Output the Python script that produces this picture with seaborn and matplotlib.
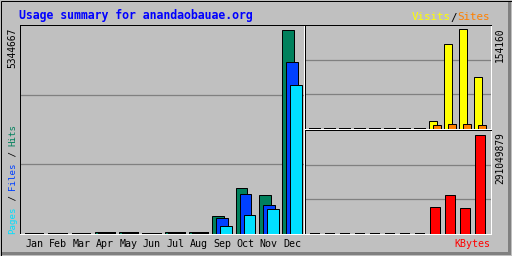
import matplotlib
matplotlib.use("Agg")
import matplotlib.pyplot as plt
from matplotlib.patches import Rectangle
from matplotlib.transforms import offset_copy
import seaborn as sns
import numpy as np

# ---------------- data ----------------
months = ["Jan", "Feb", "Mar", "Apr", "May", "Jun", "Jul", "Aug", "Sep", "Oct", "Nov", "Dec"]
hits = [0, 0, 0, 52000, 52000, 0, 52000, 52000, 464000, 1197000, 1014000, 5344667]
files = [0, 0, 0, 8000, 8000, 0, 8000, 8000, 411000, 1040000, 752000, 4488000]
pages = [0, 0, 0, 4000, 4000, 0, 4000, 4000, 202000, 490000, 647000, 3896000]
visits = [0, 0, 0, 0, 0, 0, 0, 0, 12400, 131400, 154160, 80400]
sites = [0, 0, 0, 0, 0, 0, 0, 0, 6200, 7700, 7700, 6200]
kbytes = [0, 0, 0, 0, 0, 0, 0, 0, 79600000, 114100000, 75800000, 291049879]
title = "Usage summary for anandaobauae.org"

C_HITS, C_FILES, C_PAGES = "#00805c", "#0040ff", "#00e0ff"
C_VISITS, C_SITES, C_KB = "#ffff00", "#ff8000", "#ff0000"
BG = "#c0c0c0"
MONO = "DejaVu Sans Mono"

sns.set_style("white")
plt.rcParams["font.family"] = [MONO, "DejaVu Sans"]

W, H = 512, 256
fig = plt.figure(figsize=(W / 100, H / 100), dpi=100, facecolor=BG)


def fx(px):
    return px / W


def fy(py):
    return 1 - py / H


# background frame
bg = fig.add_axes([0, 0, 1, 1], zorder=-10)
bg.set_xlim(0, W)
bg.set_ylim(H, 0)
bg.axis("off")
bg.add_patch(Rectangle((508, 1), 3, 254, facecolor="#808080", edgecolor="none"))
bg.add_patch(Rectangle((1, 252), 510, 3, facecolor="#808080", edgecolor="none"))
bg.add_patch(Rectangle((1, 1), 507, 1, facecolor="white", edgecolor="none"))
bg.add_patch(Rectangle((1, 1), 1, 251, facecolor="white", edgecolor="none"))
bg.add_patch(Rectangle((0.5, 0.5), 511, 255, fill=False, edgecolor="black", lw=0.72))


def panel(l, t, r, b):
    ax = fig.add_axes([l / W, 1 - b / H, (r - l) / W, (b - t) / H])
    ax.set_facecolor(BG)
    for s in ("top", "left"):
        ax.spines[s].set_color("black")
        ax.spines[s].set_linewidth(0.72)
    for s in ("bottom", "right"):
        ax.spines[s].set_color("white")
        ax.spines[s].set_linewidth(0.72)
    return ax


def bars(ax, pos, vals, color, width):
    sns.barplot(x=pos, y=vals, native_scale=True, width=width, color=color,
                saturation=1, edgecolor="black", linewidth=0.72,
                errorbar=None, ax=ax)


def finish(ax, xlim, ymax, min_px):
    ax.set_xlim(*xlim)
    ax.set_ylim(0, ymax)
    ax.set_yticks([ymax / 3, 2 * ymax / 3])
    ax.yaxis.grid(True, color="#808080", lw=0.9)
    ax.set_axisbelow(True)
    ax.tick_params(left=False, labelleft=False, bottom=False)
    ax.set_xlabel("")
    ax.set_ylabel("")
    for p in ax.patches:
        if p.get_height() < min_px:
            p.set_linewidth(1.44)


idx = np.arange(12)

# ---------------- main panel ----------------
ax = panel(20, 25, 304, 233.5)
sp = 23.4
w = 11.5 / sp
bars(ax, idx + w / 2, hits, C_HITS, w)
bars(ax, idx + 4 / sp + w / 2, files, C_FILES, w)
bars(ax, idx + 8 / sp + w / 2, pages, C_PAGES, w)
ymax_main = max(hits) * 208.5 / 204
finish(ax, ((20 - 25) / sp, (304 - 25) / sp), ymax_main, ymax_main * 1.5 / 208)
ax.set_xticks(idx + 4 / sp + w / 2)
ax.set_xticklabels(months, fontsize=7.2, family=MONO, color="black")
ax.tick_params(axis="x", length=0, pad=4)

# ---------------- visits / sites ----------------
ax2 = panel(305, 25, 491, 129)
sp2 = 15.0
w2 = 7.5 / sp2
bars(ax2, idx + w2 / 2, visits, C_VISITS, w2)
bars(ax2, idx + 4 / sp2 + w2 / 2, sites, C_SITES, w2)
ymax2 = max(visits) * 104 / 99.7
finish(ax2, ((305 - 309.3) / sp2, (491 - 309.3) / sp2), ymax2, ymax2 * 1.5 / 104)
ax2.set_xticks([])

# ---------------- kbytes ----------------
ax3 = panel(305, 130, 491, 233.5)
w3 = 10.0 / sp2
bars(ax3, idx + w3 / 2, kbytes, C_KB, w3)
ymax3 = max(kbytes) * 103.5 / 98.7
finish(ax3, ((305 - 310) / sp2, (491 - 310) / sp2), ymax3, ymax3 * 1.5 / 103.5)
ax3.set_xticks([])

# ---------------- texts ----------------
fig.text(fx(19), fy(18.5), title, color="#0000ff", fontsize=8.3,
         fontweight="bold", family=MONO, ha="left", va="baseline")


def seg_text(x_px, y_px, parts, fs, rot):
    adv = 0.602 * fs
    k = 0
    for s, c in parts:
        if rot:
            tr = offset_copy(fig.transFigure, fig=fig, x=0, y=k * adv, units="points")
            fig.text(fx(x_px), fy(y_px), s, color=c, fontsize=fs, family=MONO,
                     rotation=90, rotation_mode="anchor", ha="left", va="center",
                     transform=tr)
        else:
            tr = offset_copy(fig.transFigure, fig=fig, x=k * adv, y=0, units="points")
            fig.text(fx(x_px), fy(y_px), s, color=c, fontsize=fs, family=MONO,
                     ha="left", va="baseline", transform=tr)
        k += len(s)


fs_lbl = 6.6
seg_text(12.5, 234, [("Pages", C_PAGES), (" / ", "black"), ("Files", C_FILES),
                     (" / ", "black"), ("Hits", C_HITS)], fs_lbl, True)

fs_vs = 7.8
adv_px = 0.602 * fs_vs * 100 / 72
seg_text(490 - 12 * adv_px, 20.5, [("Visits", C_VISITS), ("/", "black"),
                                   ("Sites", C_SITES)], fs_vs, False)

fs_kb = 7.2
adv_kb = 0.602 * fs_kb * 100 / 72
fig.text(fx(490), fy(247), "KBytes", color=C_KB, fontsize=fs_kb, family=MONO,
         ha="right", va="baseline")

fig.text(fx(12.5), fy(28), str(max(hits)), rotation=90, fontsize=6.9, family=MONO,
         ha="center", va="top", color="black")
fig.text(fx(500), fy(28), str(max(visits)), rotation=90, fontsize=6.9, family=MONO,
         ha="center", va="top", color="black")
fig.text(fx(500), fy(132), str(max(kbytes)), rotation=90, fontsize=6.9, family=MONO,
         ha="center", va="top", color="black")

fig.savefig("out.png", dpi=100, facecolor=BG)
